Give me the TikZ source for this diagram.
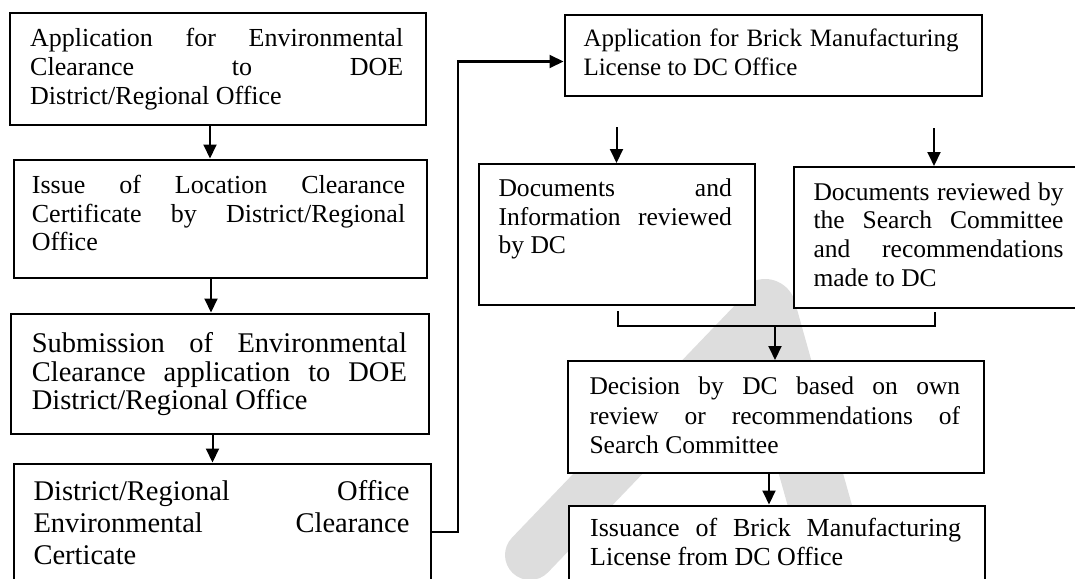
\documentclass[tikz,border=0pt]{standalone}
\usepackage{fontspec}
\setmainfont{Liberation Serif}
\usetikzlibrary{arrows.meta}
\definecolor{wmgray}{RGB}{221,221,221}
\newcommand{\jline}[1]{\makebox[\hsize][s]{\spaceskip=0pt\relax\xspaceskip=0pt\relax #1}}
\newcommand{\tstrut}{\rule{0pt}{21pt}}
\begin{document}
\begin{tikzpicture}[x=1pt,y=-1pt,
  box/.style={draw, line width=2pt, fill=white, inner sep=0pt, anchor=north west},
  txt/.style={inner sep=0pt, anchor=north west, align=justify},
  conn/.style={line width=2pt},
  arr/.style={conn, -{Triangle[length=14pt,width=13pt]}},
  wm/.style={draw=wmgray, line cap=round, line join=round}]
\useasboundingbox (0,0) rectangle (1075,578);
\clip (0,0) rectangle (1075,578);
% watermark
\draw[wm, line width=50pt] (530,555) -- (765,310);
\draw[wm, line width=62pt] (765,310) -- (852,620);
% boxes
\node[box, minimum width=416pt, minimum height=111pt] (a1) at (8.5,12.5) {};
\node[box, minimum width=413.5pt, minimum height=118.5pt] (a2) at (12.5,158.5) {};
\node[box, minimum width=417.5pt, minimum height=120pt] (a3) at (10,312.5) {};
\node[box, minimum width=417pt, minimum height=137.5pt] (a4) at (12.5,462.5) {};
\node[box, minimum width=417pt, minimum height=81pt] (b1) at (563.5,14) {};
\node[box, minimum width=276pt, minimum height=141pt] (b2) at (477.5,163) {};
\node[box, minimum width=297.5pt, minimum height=140.5pt] (b3) at (792.5,166) {};
\node[box, minimum width=416pt, minimum height=111.5pt] (b4) at (566.5,360) {};
\node[box, minimum width=415.5pt, minimum height=100pt] (b5) at (568,504.5) {};
% texts
\node[txt, text width=373pt, font=\fontsize{26}{28.7}\selectfont] (a1t) at (30,25.5)
 {\jline{\tstrut Application for Environmental}\\\jline{Clearance to DOE}\\District/Regional Office};
\node[txt, text width=373.3pt, font=\fontsize{26}{28.5}\selectfont] (a2t) at (31.7,172.3)
 {\jline{\tstrut Issue of Location Clearance}\\\jline{Certificate by District/Regional}\\Office};
\node[txt, text width=375pt, font=\fontsize{28.5}{28.5}\selectfont] (a3t) at (31.7,331.5)
 {\jline{\tstrut Submission of Environmental}\\\jline{Clearance application to DOE}\\District/Regional Office};
\node[txt, text width=376pt, font=\fontsize{28.5}{32}\selectfont] (a4t) at (33.3,479)
 {\jline{\tstrut District/Regional Office}\\\jline{Environmental Clearance}\\Certicate};
\node[txt, text width=375pt, font=\fontsize{25}{29}\selectfont] (b1t) at (583.3,25.7)
 {\jline{\tstrut Application for Brick Manufacturing}\\License to DC Office};
\node[txt, text width=233.4pt, font=\fontsize{25.6}{28.5}\selectfont] (b2t) at (498.3,175.7)
 {\jline{\tstrut Documents and}\\\jline{Information reviewed}\\by DC};
\node[txt, text width=250pt, font=\fontsize{25.5}{28.7}\selectfont] (b3t) at (813.3,179)
 {\jline{\tstrut Documents reviewed by}\\\jline{the Search Committee}\\\jline{and recommendations}\\made to DC};
\node[txt, text width=370.7pt, font=\fontsize{25.5}{29.5}\selectfont] (b4t) at (589.3,373.3)
 {\jline{\tstrut Decision by DC based on own}\\\jline{review or recommendations of}\\Search Committee};
\node[txt, text width=371pt, font=\fontsize{26}{28.5}\selectfont] (b5t) at (590,515.7)
 {\jline{\tstrut Issuance of Brick Manufacturing}\\License from DC Office};
% connectors
\coordinate (xa) at (210,0);
\coordinate (xb) at (211,0);
\coordinate (xc) at (212.5,0);
\draw[arr] (a1.south -| xa) -- (a2.north -| xa);
\draw[arr] (a2.south -| xb) -- (a3.north -| xb);
\draw[arr] (a3.south -| xc) -- (a4.north -| xc);
\coordinate (k1) at (457.5,61.5);
\draw[arr] (a4.east) -| (k1) -- (k1 -| b1.west);
\coordinate (s1) at (616.5,127);
\coordinate (s2) at (934,128);
\draw[arr] (s1) -- (s1 |- b2.north);
\draw[arr] (s2) -- (s2 |- b3.north);
\coordinate (m1) at (617.5,311);
\coordinate (m2) at (934.5,311.5);
\coordinate (mj) at (775,326);
\draw[conn] (m1) |- (mj) -| (m2);
\draw[arr] (mj) -- (mj |- b4.north);
\coordinate (xd) at (769,0);
\draw[arr] (b4.south -| xd) -- (b5.north -| xd);
\end{tikzpicture}
\end{document}
